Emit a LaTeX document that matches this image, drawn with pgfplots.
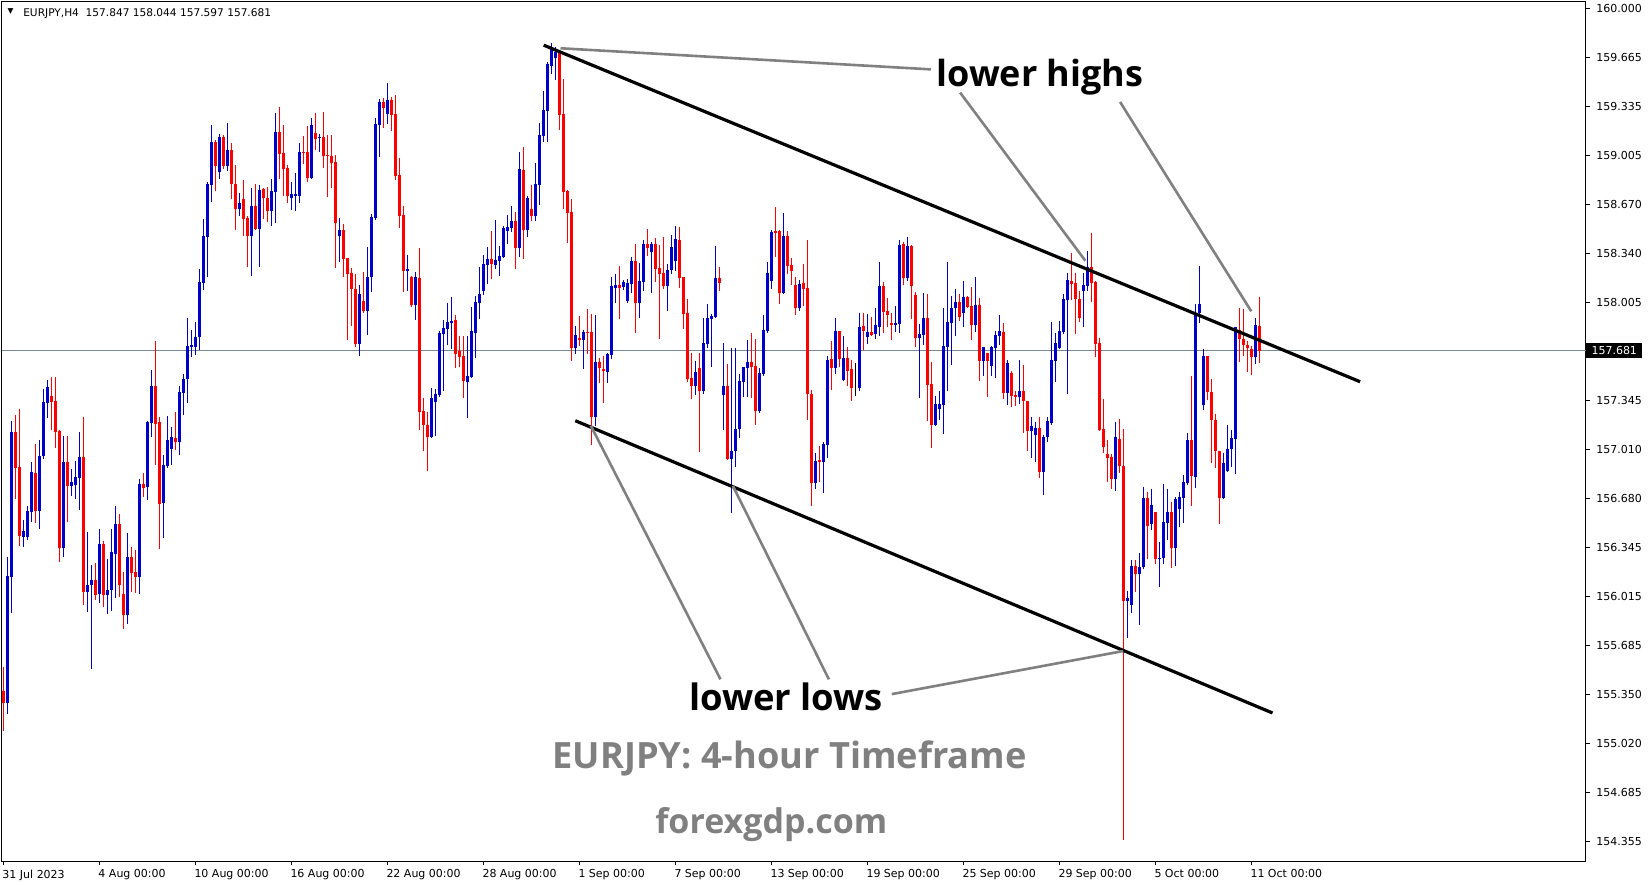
\documentclass[border=0pt]{standalone}
\usepackage{fontspec}
\setmainfont{DejaVu Sans}
\newfontfamily\osans{Open Sans}
\usepackage{pgfplots}
\usepackage{pgfplotstable}
\pgfplotsset{compat=1.18}
\definecolor{bullc}{RGB}{0,0,205}
\definecolor{bearc}{RGB}{255,0,0}
\definecolor{annog}{RGB}{128,128,128}
\definecolor{pline}{RGB}{119,136,153}

% bar index (4-hour bars from 31 Jul 2023 00:00), open, high, low, close
\pgfplotstableread{
i O H L C
1 155.295 156.284 155.218 156.153
2 156.149 157.206 155.905 157.129
5 156.420 156.533 156.352 156.458
6 156.415 156.627 156.397 156.594
7 156.589 156.926 156.521 156.858
9 156.594 157.075 156.474 156.966
10 156.966 157.420 156.948 157.332
11 157.328 157.481 157.224 157.434
15 156.343 157.102 156.282 156.926
17 156.765 156.878 156.698 156.790
18 156.772 156.932 156.675 156.824
19 156.819 157.129 156.600 156.960
21 156.047 156.451 155.909 156.092
22 156.092 156.228 155.523 156.126
24 156.031 156.472 155.970 156.370
26 156.024 156.268 155.896 156.058
27 156.058 156.472 155.916 156.316
28 156.302 156.627 156.004 156.505
31 155.889 156.444 155.828 156.282
34 156.146 156.810 156.031 156.777
36 156.756 157.206 156.668 157.197
37 157.190 157.549 157.095 157.441
40 156.650 156.973 156.413 156.905
41 156.901 157.237 156.883 157.075
42 157.016 157.163 156.908 157.095
44 157.064 157.441 156.975 157.400
45 157.396 157.522 157.247 157.488
46 157.486 157.902 157.328 157.712
47 157.705 157.820 157.640 157.719
48 157.707 157.874 157.651 157.773
49 157.775 158.234 157.685 158.146
50 158.141 158.573 158.094 158.457
51 158.453 158.823 158.182 158.810
52 158.805 159.210 158.690 159.094
54 158.893 159.149 158.846 159.128
56 158.934 159.223 158.900 159.040
59 158.643 158.749 158.595 158.681
62 158.460 158.783 158.188 158.661
64 158.507 158.803 158.249 158.769
67 158.629 158.844 158.527 158.762
68 158.758 159.291 158.548 159.162
72 158.717 158.823 158.636 158.742
73 158.728 158.884 158.629 158.742
74 158.731 159.088 158.683 159.027
77 158.853 159.257 158.850 159.210
79 159.119 159.149 159.029 159.128
84 158.460 158.580 158.284 158.499
89 157.728 158.126 157.647 158.065
91 157.950 158.383 157.789 158.180
92 158.182 158.607 158.081 158.587
93 158.582 159.258 158.569 159.217
94 159.210 159.386 158.996 159.366
96 159.287 159.495 159.219 159.380
101 158.223 158.329 158.087 158.234
103 157.990 158.214 157.891 158.180
107 157.098 157.428 157.098 157.360
108 157.335 157.421 157.105 157.387
109 157.380 157.814 157.367 157.801
110 157.794 157.889 157.410 157.834
111 157.830 158.004 157.721 157.875
112 157.871 158.045 157.694 157.882
116 157.471 157.782 157.227 157.507
117 157.505 157.977 157.498 157.814
118 157.803 158.051 157.633 158.011
119 158.006 158.248 157.898 158.065
120 158.087 158.329 158.060 158.268
121 158.261 158.383 158.133 158.302
123 158.261 158.566 158.236 158.295
124 158.288 158.390 158.189 158.322
125 158.318 158.526 158.311 158.514
126 158.492 158.600 158.406 158.519
127 158.514 158.661 158.487 158.559
129 158.379 159.027 158.318 158.912
131 158.498 158.729 158.453 158.715
133 158.593 158.953 158.562 158.810
134 158.803 159.224 158.668 159.142
135 159.138 159.440 159.097 159.312
136 159.307 159.637 159.097 159.623
137 159.610 159.766 159.556 159.739
138 159.664 159.739 159.517 159.705
143 157.701 157.848 157.660 157.787
145 157.755 157.823 157.559 157.810
148 157.233 157.922 157.172 157.604
151 157.538 157.665 157.464 157.658
152 157.651 158.178 157.624 158.119
153 158.108 158.203 158.006 158.126
155 158.114 158.160 158.094 158.146
156 158.017 158.166 158.013 158.139
157 158.133 158.315 158.074 158.288
159 158.006 158.275 157.900 158.153
160 158.145 158.430 158.084 158.403
162 158.351 158.416 158.073 158.403
166 158.121 158.267 157.951 158.227
167 158.227 158.464 158.202 158.383
168 158.285 158.525 158.222 158.437
173 157.443 157.612 157.382 157.535
175 157.409 157.901 157.389 157.732
176 157.728 157.999 157.700 157.901
177 157.897 157.931 157.572 157.915
178 157.910 158.389 157.910 158.173
180 157.382 157.732 157.145 157.441
182 156.948 157.700 156.582 157.000
183 157.000 157.700 156.894 157.149
184 157.149 157.522 157.090 157.474
185 157.468 157.569 157.366 157.569
186 157.565 157.752 157.366 157.605
189 157.273 157.563 157.260 157.529
190 157.522 157.922 157.515 157.820
191 157.813 158.281 157.802 158.206
192 158.154 158.500 158.098 158.487
195 158.073 158.613 158.066 158.457
199 157.971 158.160 157.950 158.130
203 156.786 156.987 156.745 156.933
205 156.926 157.061 156.718 157.048
206 157.043 157.644 156.955 157.617
208 157.565 157.902 157.525 157.814
210 157.482 157.780 157.477 157.631
214 157.430 157.936 157.409 157.841
216 157.775 157.929 157.728 157.807
218 157.796 157.969 157.762 157.857
219 157.843 158.281 157.782 158.119
223 157.857 157.983 157.807 157.870
224 157.863 158.430 157.802 158.396
226 158.171 158.451 158.155 158.390
229 157.768 157.861 157.362 157.796
230 157.789 158.071 157.721 157.902
233 157.179 157.373 157.172 157.319
234 157.287 157.407 157.213 157.319
235 157.314 157.969 157.118 157.712
236 157.707 158.281 157.409 157.875
237 157.870 158.051 157.585 157.970
238 157.970 158.098 157.782 158.010
240 157.938 158.153 157.843 158.044
243 157.857 158.180 157.809 157.990
245 157.613 157.705 157.511 157.705
247 157.579 157.712 157.511 157.705
248 157.701 157.814 157.497 157.787
249 157.782 157.922 157.721 157.814
251 157.396 157.617 157.315 157.597
254 157.369 157.617 157.321 157.407
257 157.138 157.231 156.955 157.170
258 157.111 157.197 156.928 157.156
260 156.856 157.109 156.705 157.095
261 157.095 157.231 157.064 157.204
262 157.190 157.875 157.186 157.617
263 157.613 157.800 157.470 157.732
264 157.701 157.882 157.696 157.814
265 157.809 158.065 157.796 158.031
266 158.026 158.207 157.389 158.159
270 158.087 158.207 157.843 158.125
271 158.121 158.356 158.087 158.247
278 156.813 157.199 156.732 157.095
281 155.983 156.053 155.734 156.007
282 155.958 156.259 155.904 156.220
284 156.164 156.310 155.821 156.212
285 156.212 156.760 156.200 156.683
287 156.503 156.745 156.462 156.637
289 156.266 156.385 156.079 156.277
290 156.274 156.778 156.238 156.521
291 156.516 156.745 156.395 156.588
293 156.346 156.688 156.218 156.678
294 156.606 156.724 156.483 156.688
295 156.683 156.835 156.516 156.791
296 156.786 157.120 156.771 157.074
298 156.827 157.995 156.750 157.936
299 157.936 158.255 157.866 157.995
300 157.311 157.694 157.280 157.645
305 156.683 156.989 156.683 156.920
306 156.868 157.177 156.868 157.015
307 157.012 157.143 156.891 157.090
308 157.084 157.843 156.843 157.843
313 157.635 157.900 157.588 157.853
}\bull

\pgfplotstableread{
i O H L C
0 155.376 155.539 155.105 155.295
3 157.129 157.244 156.675 156.887
4 156.892 157.285 156.356 156.424
8 156.851 157.048 156.515 156.594
12 157.373 157.502 157.143 157.335
13 157.339 157.502 157.023 157.131
14 157.136 157.143 156.248 156.343
16 156.926 157.102 156.519 156.765
20 156.960 157.231 155.957 156.047
23 156.126 156.241 155.990 156.024
25 156.370 156.390 155.943 156.024
29 156.505 156.573 156.011 156.092
30 156.031 156.180 155.794 155.889
32 156.282 156.350 156.045 156.173
33 156.180 156.329 156.038 156.146
35 156.777 156.851 156.688 156.749
38 157.441 157.746 156.905 157.183
39 157.197 157.231 156.336 156.641
43 157.088 157.265 157.009 157.064
53 159.094 159.108 158.765 158.934
55 159.128 159.142 158.914 158.934
57 159.040 159.088 158.710 158.812
58 158.812 158.938 158.500 158.643
60 158.708 158.837 158.460 158.575
61 158.582 158.593 158.249 158.460
63 158.661 158.810 158.500 158.507
65 158.776 158.783 158.575 158.717
66 158.715 158.789 158.554 158.629
69 159.162 159.332 158.846 159.015
70 159.020 159.210 158.731 158.914
71 158.918 158.938 158.683 158.731
75 159.027 159.135 158.948 159.022
76 159.027 159.203 158.826 158.853
78 159.155 159.291 159.042 159.117
80 159.129 159.298 158.921 159.002
81 159.007 159.142 158.724 159.002
82 159.000 159.142 158.785 158.955
83 158.959 159.007 158.243 158.548
85 158.499 158.539 158.182 158.304
86 158.309 158.309 157.755 158.200
87 158.207 158.241 157.850 158.101
88 158.099 158.200 157.708 157.728
90 158.017 158.214 157.938 157.950
95 159.366 159.393 159.192 159.328
97 159.380 159.400 159.172 159.280
98 159.285 159.413 158.840 158.867
99 158.871 158.987 158.514 158.596
100 158.600 158.661 158.081 158.223
102 158.180 158.187 157.986 157.990
104 158.173 158.377 157.145 157.267
105 157.272 157.360 157.003 157.179
106 157.179 157.267 156.868 157.098
113 157.889 157.923 157.566 157.660
114 157.681 157.782 157.572 157.640
115 157.645 157.782 157.362 157.477
122 158.302 158.492 158.169 158.268
128 158.559 158.620 158.236 158.379
130 158.905 159.061 158.304 158.498
132 158.641 158.803 158.562 158.593
139 159.705 159.718 159.176 159.278
140 159.285 159.522 158.643 158.758
141 158.765 158.770 158.413 158.616
142 158.620 158.709 157.613 157.701
144 157.769 157.916 157.715 157.755
146 157.810 157.963 157.660 157.805
147 157.810 157.929 157.044 157.233
149 157.604 157.631 157.464 157.566
150 157.559 157.645 157.328 157.545
154 158.126 158.254 157.898 158.108
158 158.288 158.404 157.803 158.006
161 158.403 158.505 158.324 158.374
163 158.403 158.444 158.148 158.236
164 158.240 158.396 157.761 158.202
165 158.206 158.450 158.100 158.121
169 158.430 158.518 158.107 158.175
170 158.179 158.179 157.829 157.931
171 157.935 158.030 157.465 157.490
172 157.497 157.666 157.355 157.443
174 157.563 157.666 156.996 157.409
179 158.173 158.249 158.087 158.141
181 157.441 157.590 156.948 156.948
187 157.605 157.802 157.362 157.572
188 157.578 157.761 157.179 157.273
193 158.491 158.654 158.317 158.477
194 158.491 158.500 157.999 158.073
196 158.457 158.491 158.202 158.256
197 158.261 158.308 158.127 158.220
198 158.127 158.182 157.924 157.971
200 158.139 158.268 157.981 158.101
201 158.105 158.430 157.213 157.389
202 157.389 157.416 156.630 156.786
204 156.939 157.034 156.793 156.926
207 157.624 157.746 157.416 157.565
209 157.814 157.814 157.572 157.626
211 157.631 157.705 157.443 157.545
212 157.558 157.617 157.341 157.430
215 157.848 157.936 157.687 157.816
217 157.807 157.909 157.780 157.789
220 158.119 158.146 157.802 157.945
221 157.949 158.037 157.843 157.922
222 157.868 157.936 157.755 157.857
225 158.403 158.417 158.128 158.171
227 158.390 158.396 157.895 158.119
228 158.058 158.078 157.707 157.768
231 157.902 158.064 157.206 157.450
232 157.454 157.604 157.023 157.179
239 158.010 158.064 157.880 157.910
241 158.044 158.051 157.972 157.979
242 157.985 158.112 157.755 157.857
244 157.990 158.037 157.477 157.613
246 157.665 157.665 157.369 157.613
250 157.807 157.868 157.355 157.396
252 157.529 157.543 157.301 157.375
253 157.380 157.407 157.308 157.369
255 157.407 157.583 157.125 157.339
256 157.339 157.339 157.003 157.138
259 157.156 157.231 156.820 156.860
267 158.153 158.342 158.026 158.135
268 158.139 158.207 157.796 158.033
269 158.033 158.085 157.877 157.904
272 158.247 158.478 158.013 158.141
273 158.146 158.153 157.640 157.728
274 157.732 157.769 157.138 157.145
275 157.150 157.353 156.989 157.028
276 156.980 157.075 156.793 156.955
277 156.960 156.980 156.745 156.813
279 157.082 157.217 156.850 156.902
280 156.902 157.151 154.363 155.983
283 156.220 156.259 156.043 156.164
286 156.683 156.724 156.266 156.495
288 156.588 156.588 156.233 156.266
292 156.588 156.657 156.207 156.346
297 157.074 157.509 156.627 156.832
301 157.645 157.645 157.344 157.398
302 157.403 157.491 156.917 157.208
303 157.213 157.254 156.886 157.002
304 157.002 157.002 156.506 156.683
309 157.820 157.972 157.601 157.758
310 157.761 157.964 157.642 157.717
311 157.717 157.743 157.537 157.702
312 157.689 157.714 157.514 157.635
314 157.847 158.044 157.597 157.681
}\bear

\pgfplotstableread{
i O H L C
213 157.432 157.597 157.375 157.432
}\doji

\pgfplotsset{
  wick/.style={draw=none, mark=none, forget plot,
    error bars/.cd, y dir=minus, y explicit, error mark=none,
    error bar style={line width=0.5pt, draw=#1, solid}},
  body/.style={draw=none, mark=none, forget plot,
    error bars/.cd, y dir=minus, y explicit, error mark=-,
    error mark options={line width=0.5pt, mark size=0.75pt, draw=#1, solid},
    error bar style={line width=1.5pt, draw=#1, solid}},
}

\begin{document}
\begin{tikzpicture}
\useasboundingbox (0,0) rectangle (824.5pt,442pt);
\begin{axis}[
  at={(1pt,11.5pt)}, anchor=south west,
  scale only axis, width=791.75pt, height=429.75pt,
  xmin=-0.325, xmax=395.55, ymin=154.222, ymax=160.047,
  clip=false,
  axis line style={line width=0.5pt, black},
  tick align=outside,
  major tick length=2pt,
  tick style={line width=0.5pt, black},
  xtick pos=left,
  ytick pos=right,
  yticklabel pos=right,
  xtick={0,24,...,312},
  xticklabels={31 Jul 2023, 4 Aug 00:00, 10 Aug 00:00, 16 Aug 00:00, 22 Aug 00:00, 28 Aug 00:00, 1 Sep 00:00, 7 Sep 00:00, 13 Sep 00:00, 19 Sep 00:00, 25 Sep 00:00, 29 Sep 00:00, 5 Oct 00:00, 11 Oct 00:00},
  ytick={160.000,159.665,159.335,159.005,158.670,158.340,158.005,157.345,157.010,156.680,156.345,156.015,155.685,155.350,155.020,154.685,154.355},
  yticklabels={160.000,159.665,159.335,159.005,158.670,158.340,158.005,157.345,157.010,156.680,156.345,156.015,155.685,155.350,155.020,154.685,154.355},
  tick label style={font=\fontsize{5.5}{6.5}\selectfont, black},
  xticklabel style={anchor=north west, inner sep=0pt, xshift=-0.6pt, yshift=-2.2pt},
  yticklabel style={anchor=west, inner sep=0pt, xshift=3.2pt},
]
% current price line
\draw[pline, line width=0.5pt] (axis cs:-0.325,157.681) -- (axis cs:395.55,157.681);

% wicks
\addplot[wick=bullc] table[x=i, y=H, y error minus expr=\thisrow{H}-\thisrow{L}] {\bull};
\addplot[wick=bearc] table[x=i, y=H, y error minus expr=\thisrow{H}-\thisrow{L}] {\bear};
\addplot[wick=black] table[x=i, y=H, y error minus expr=\thisrow{H}-\thisrow{L}] {\doji};
% bodies
\addplot[body=bullc] table[x=i, y=C, y error minus expr=\thisrow{C}-\thisrow{O}] {\bull};
\addplot[body=bearc] table[x=i, y=O, y error minus expr=\thisrow{O}-\thisrow{C}] {\bear};
\addplot[body=black] table[x=i, y=O, y error minus expr=\thisrow{O}-\thisrow{C}] {\doji};

% channel lines
\draw[black, line width=1.6pt] (axis cs:135.1,159.751) -- (axis cs:339.2,157.470);
\draw[black, line width=1.6pt] (axis cs:143.0,157.206) -- (axis cs:317.3,155.225);
% pointer lines
\draw[annog, line width=1.3pt] (axis cs:139.3,159.730) -- (axis cs:231.9,159.587);
\draw[annog, line width=1.3pt] (axis cs:239.2,159.430) -- (axis cs:270.5,158.290);
\draw[annog, line width=1.3pt] (axis cs:279.2,159.366) -- (axis cs:312.0,157.947);
\draw[annog, line width=1.3pt] (axis cs:179.3,155.453) -- (axis cs:146.9,157.171);
\draw[annog, line width=1.3pt] (axis cs:206.4,155.453) -- (axis cs:182.4,156.764);
\draw[annog, line width=1.3pt] (axis cs:222.1,155.353) -- (axis cs:280.0,155.645);

% texts
\node[anchor=base west, inner sep=0pt, font=\osans\bfseries\fontsize{18}{20}\selectfont] at (axis cs:233.2,159.474) {lower highs};
\node[anchor=base west, inner sep=0pt, font=\osans\bfseries\fontsize{18.2}{20}\selectfont] at (axis cs:171.4,155.245) {lower lows};
\node[anchor=base west, inner sep=0pt, text=annog, font=\osans\bfseries\fontsize{18.1}{20}\selectfont] at (axis cs:137.2,154.846) {EURJPY: 4-hour Timeframe};
\node[anchor=base west, inner sep=0pt, text=annog, font=\osans\bfseries\fontsize{17}{20}\selectfont] at (axis cs:162.9,154.405) {forexgdp.com};

% header
\node[inner sep=0pt, font=\fontsize{3.8}{4}\selectfont] at (axis cs:1.8,159.982) {▼};
\node[anchor=base west, inner sep=0pt, font=\fontsize{5.3}{6}\selectfont] at (axis cs:4.9,159.944) {EURJPY,H4\ \ 157.847 158.044 157.597 157.681};

% current price tag
\node[anchor=west, fill=black, text=white, inner xsep=2.6pt, inner ysep=0pt, minimum height=7.5pt, font=\fontsize{5.5}{6.5}\selectfont] at (axis cs:395.55,157.681) {\hspace*{0.2pt}157.681};
\end{axis}
\end{tikzpicture}
\end{document}
